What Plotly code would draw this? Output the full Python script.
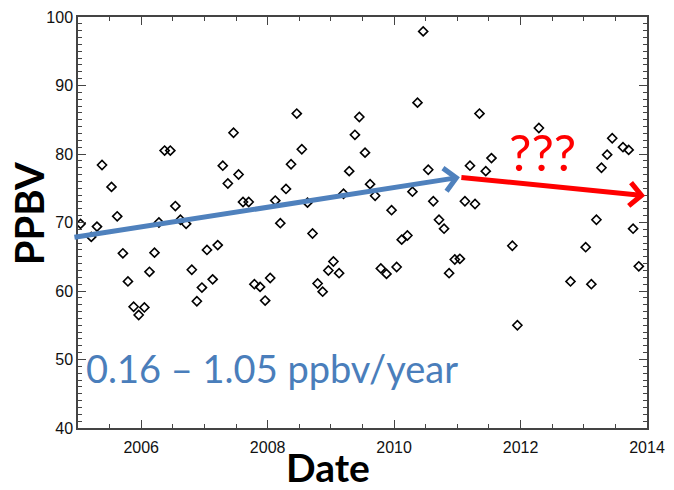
import plotly.graph_objects as go

# ---- data ----
dates = [2005.04, 2005.21, 2005.30, 2005.38, 2005.53, 2005.62, 2005.71, 2005.79, 2005.88, 2005.96,
         2006.05, 2006.13, 2006.21, 2006.28, 2006.37, 2006.46, 2006.54, 2006.62, 2006.71, 2006.80,
         2006.88, 2006.96, 2007.04, 2007.13, 2007.21, 2007.29, 2007.37, 2007.46, 2007.54, 2007.61,
         2007.70, 2007.79, 2007.88, 2007.96, 2008.04, 2008.12, 2008.20, 2008.29, 2008.37, 2008.46,
         2008.54, 2008.63, 2008.71, 2008.79, 2008.87, 2008.96, 2009.04, 2009.13, 2009.20, 2009.29,
         2009.38, 2009.45, 2009.54, 2009.62, 2009.70, 2009.79, 2009.88, 2009.96, 2010.04, 2010.12,
         2010.21, 2010.29, 2010.37, 2010.46, 2010.54, 2010.62, 2010.71, 2010.79, 2010.87, 2010.96,
         2011.04, 2011.12, 2011.20, 2011.28, 2011.35, 2011.45, 2011.54, 2011.87, 2011.95, 2012.29,
         2012.79, 2013.03, 2013.12, 2013.20, 2013.28, 2013.37, 2013.45, 2013.62, 2013.71, 2013.78,
         2013.87]
ppbv = [69.8, 67.9, 69.4, 78.4, 75.2, 70.9, 65.5, 61.4, 57.7, 56.5,
        57.6, 62.8, 65.6, 70.0, 80.5, 80.5, 72.4, 70.4, 69.8, 63.1,
        58.5, 60.5, 66.0, 61.7, 66.7, 78.3, 75.7, 83.1, 77.0, 73.0,
        73.0, 61.0, 60.6, 58.6, 61.9, 73.2, 69.9, 74.9, 78.5, 85.9,
        80.7, 72.9, 68.4, 61.1, 59.9, 63.0, 64.3, 62.6, 74.2, 77.5,
        82.8, 85.4, 80.2, 75.6, 73.9, 63.3, 62.5, 71.8, 63.5, 67.5,
        68.1, 74.5, 87.5, 97.9, 77.7, 73.1, 70.4, 69.1, 62.6, 64.6,
        64.7, 73.1, 78.3, 72.7, 85.9, 77.5, 79.4, 66.6, 55.0, 83.8,
        61.4, 66.4, 61.0, 70.4, 78.0, 79.9, 82.3, 81.0, 80.6, 69.1,
        63.6]

# trend arrows (start/end in data units)
trend_x = [2004.92, 2011.04, 2013.97]
trend_y = [67.8, 76.6, 73.9]

x_ticks = [2006, 2008, 2010, 2012, 2014]
y_ticks = [40, 50, 60, 70, 80, 90, 100]

blue = "#4F81BD"
red = "#FF0000"

fig = go.Figure()
fig.add_trace(go.Scatter(
    x=dates, y=ppbv, mode="markers",
    marker=dict(symbol="diamond-open", size=7, color="black", line=dict(width=1.6, color="black")),
    showlegend=False, hoverinfo="skip"))

axis_common = dict(
    showgrid=False, zeroline=False, showline=True, linecolor="#444", linewidth=1.5,
    mirror="ticks", ticks="inside", ticklen=8, tickwidth=1.3, tickcolor="#444",
    tickfont=dict(family="Liberation Sans, Arial", size=16, color="#111"),
)
fig.update_xaxes(range=[2005, 2014], tickvals=x_ticks, ticktext=[str(v) for v in x_ticks],
                 ticklabelstandoff=4,
                 minor=dict(dtick=0.5, tick0=2005, ticks="inside", ticklen=4, tickcolor="#444", tickwidth=1.2),
                 **axis_common)
fig.update_yaxes(range=[40, 100], tickvals=y_ticks, ticktext=[str(v) for v in y_ticks],
                 minor=dict(dtick=1, tick0=40, ticks="inside", ticklen=4, tickcolor="#444", tickwidth=1.2),
                 **axis_common)

annotations = [
    # blue trend arrow
    dict(x=trend_x[1], y=trend_y[1], ax=trend_x[0], ay=trend_y[0], xref="x", yref="y",
         axref="x", ayref="y", showarrow=True, arrowhead=4, arrowsize=0.9, arrowwidth=5,
         arrowcolor=blue, text=""),
    # red trend arrow
    dict(x=trend_x[2], y=trend_y[2], ax=trend_x[1], ay=trend_y[1], xref="x", yref="y",
         axref="x", ayref="y", showarrow=True, arrowhead=4, arrowsize=0.9, arrowwidth=5,
         arrowcolor=red, text=""),
    dict(x=2005.1, y=48.8, xref="x", yref="y", xanchor="left", yanchor="middle",
         text="0.16 – 1.05 ppbv/year", showarrow=False,
         font=dict(family="Lato, Open Sans", size=38, color="#4A7EBB")),
    dict(x=2012.35, y=80.3, xref="x", yref="y", xanchor="center", yanchor="middle",
         text="???", showarrow=False,
         font=dict(family="Lato, Open Sans", size=50, color=red)),
    dict(x=-0.087, y=0.521, xref="paper", yref="paper", xanchor="center", yanchor="middle",
         text="<b>PPBV</b>", textangle=-90, showarrow=False,
         font=dict(family="Lato, Open Sans", size=40, color="black")),
    dict(x=0.44, y=-0.095, xref="paper", yref="paper", xanchor="center", yanchor="middle",
         text="<b>Date</b>", showarrow=False,
         font=dict(family="Lato, Open Sans", size=39, color="black")),
]

fig.update_layout(
    width=674, height=490, margin=dict(l=78, r=27, t=9, b=62),
    paper_bgcolor="white", plot_bgcolor="white", annotations=annotations,
)

fig.write_html("out.html")
